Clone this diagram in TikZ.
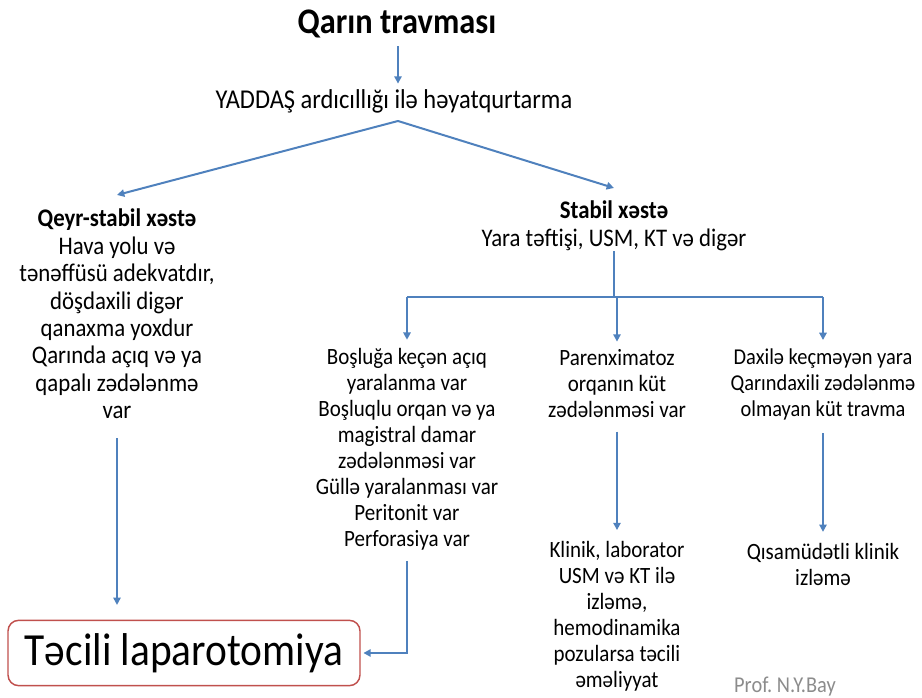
\documentclass[tikz,border=0pt]{standalone}
\usepackage{fontspec}
\setmainfont{Carlito}[FakeStretch=0.9]
\usetikzlibrary{arrows.meta, positioning, calc}
\definecolor{FlowBlue}{RGB}{79,129,189}
\definecolor{AlarmRed}{RGB}{192,80,77}
\definecolor{NoteGray}{RGB}{140,140,140}

\begin{document}
\begin{tikzpicture}[
    x=0.75pt, y=-0.75pt,
    txt/.style={align=center, inner sep=0pt, font=\fontsize{17.5}{19.5}\selectfont},
    flow/.style={-{Triangle[length=5.5pt,width=5.5pt]}, FlowBlue, line width=1.5pt},
    link/.style={FlowBlue, line width=1.5pt},
]
\useasboundingbox (0,0) rectangle (922,698);

% ---- Başlıq ----
\node[inner sep=0pt, font=\fontsize{27}{30}\selectfont\bfseries] (title) at (397,24) {Qarın travması};
\node[txt, font=\fontsize{20.4}{23}\selectfont] (yaddas) at (394,101) {YADDAŞ ardıcıllığı ilə həyatqurtarma};
\draw[flow, shorten <=6pt, shorten >=4pt] (title.south -| 398,0) -- (yaddas.north -| 398,0);

% ---- Qeyr-stabil / Stabil ----
\node[txt, font=\fontsize{19}{20.6}\selectfont] (unstable) at (117,314)
    {\textbf{Qeyr-stabil xəstə}\\Hava yolu və\\tənəffüsü adekvatdır,\\döşdaxili digər\\qanaxma yoxdur\\Qarında açıq və ya\\qapalı zədələnmə\\var};
\node[txt, font=\fontsize{19}{21}\selectfont] (stable) at (614,226) {\textbf{Stabil xəstə}\\Yara təftişi, USM, KT və digər};

\coordinate (apex) at (398,121);
\draw[flow] (apex) -- (unstable.north |- 0,195);
\draw[flow] (apex) -- (stable.north |- 0,188);

% ---- Stabil xəstənin qolları ----
\node[txt] (open) at (407,449)
    {Boşluğa keçən açıq\\yaralanma var\\Boşluqlu orqan və ya\\magistral damar\\zədələnməsi var\\Güllə yaralanması var\\Peritonit var\\Perforasiya var};
\node[txt] (organ) at (617,384) {Parenximatoz\\orqanın küt\\zədələnməsi var};
\node[txt, font=\fontsize{17}{19.5}\selectfont] (blunt) at (823,384) {Daxilə keçməyən yara\\Qarındaxili zədələnmə\\olmayan küt travma};

\coordinate (bar) at (617,297);
\draw[link] (stable.south) -- (stable.south |- bar);
\draw[link] (open.north |- bar) -- (blunt.north |- bar);
\foreach \b in {open,organ,blunt}
    \draw[flow, shorten >=6pt] (\b.north |- bar) -- (\b.north);

\node[txt] (watch) at (617,616) {Klinik, laborator\\USM və KT ilə\\izləmə,\\hemodinamika\\pozularsa təcili\\əməliyyat};
\node[txt] (short) at (823,564) {Qısamüdətli klinik\\izləmə};
\draw[flow, shorten <=10pt, shorten >=8pt] (organ.south) -- (watch.north);
\draw[flow, shorten <=10pt, shorten >=8pt] (blunt.south) -- (short.north);

% ---- Təcili laparotomiya ----
\node[draw=AlarmRed, line width=1.1pt, rounded corners=8pt, minimum width=264pt,
      minimum height=49pt, font=\fontsize{34.5}{38}\selectfont] (lap) at (184,653) {Təcili laparotomiya};
\draw[flow, shorten <=14pt, shorten >=11pt] (unstable.south) -- (unstable.south |- lap.north);
\draw[flow, shorten <=8pt, shorten >=2pt] (open.south) |- (lap.east);

\node[font=\fontsize{17}{19}\selectfont, text=NoteGray] (author) at (785,687) {Prof.\ N.Y.Bay};
\end{tikzpicture}
\end{document}
